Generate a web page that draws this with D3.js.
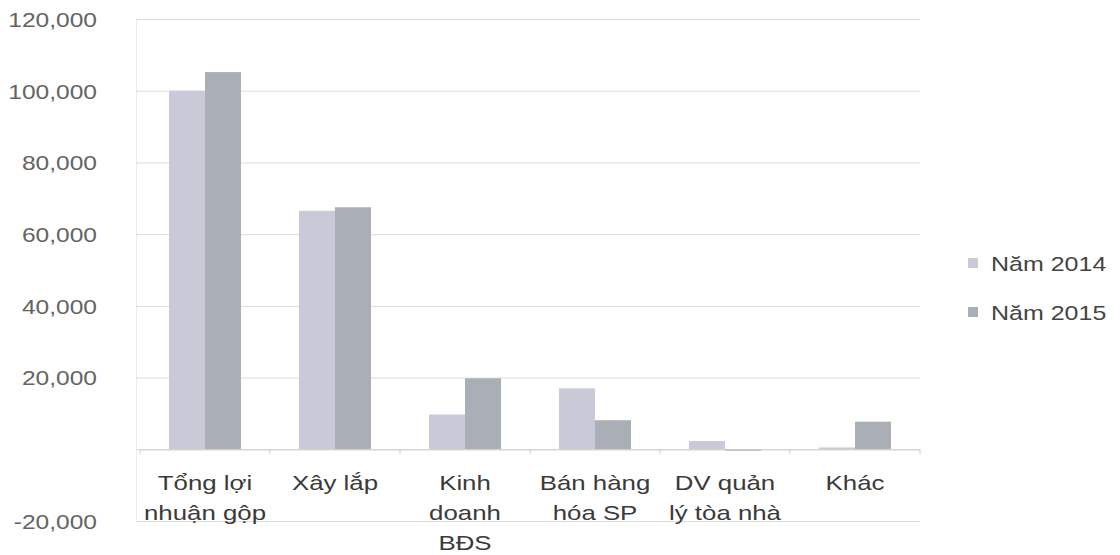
<!DOCTYPE html>
<html>
<head>
<meta charset="utf-8">
<script src="https://cdn.jsdelivr.net/npm/d3@7"></script>
<style>
  html, body { margin: 0; padding: 0; background: #ffffff; }
  svg { display: block; }
  text { font-family: "Liberation Sans", Arial, sans-serif; }
</style>
</head>
<body>
<svg id="chart" width="1120" height="555"></svg>
<script>
// ---- data ----
const categories = ["Tổng lợi\nnhuận gộp", "Xây lắp", "Kinh\ndoanh\nBĐS", "Bán hàng\nhóa SP", "DV quản\nlý tòa nhà", "Khác"];
const seriesNames = ["Năm 2014", "Năm 2015"];
const values2014 = [100000, 66500, 9700, 17000, 2300, 500];
const values2015 = [105200, 67500, 19800, 8100, -400, 7700];
const tickValues = [-20000, 0, 20000, 40000, 60000, 80000, 100000, 120000];
const tickLabels = ["-20,000", "", "20,000", "40,000", "60,000", "80,000", "100,000", "120,000"];
const colors = ["#c9c9d8", "#aaaeb6"];

// ---- layout ----
const svg = d3.select("#chart");
const plotLeft = 140, plotRight = 920, gridLeft = 136;
const yTop = 19, yBottom = 521;
const sTick = 1.17, sCat = 1.23, sLeg = 1.19;

const x0 = d3.scaleBand().domain(categories).range([plotLeft, plotRight])
  .paddingInner(0.446).paddingOuter(0.223);
const x1 = d3.scaleBand().domain(seriesNames).range([0, x0.bandwidth()]).padding(0);
const y = d3.scaleLinear().domain([-20000, 120000]).range([yBottom, yTop]);

// gridlines + y labels via axis
const yAxis = d3.axisLeft(y)
  .tickValues(tickValues)
  .tickSize(-(plotRight - gridLeft))
  .tickPadding(39)
  .tickFormat(d => tickLabels[tickValues.indexOf(d)]);

const gy = svg.append("g")
  .attr("transform", `translate(${gridLeft},0)`)
  .call(yAxis);
gy.select(".domain").attr("stroke", "#ececec");
gy.selectAll(".tick line").attr("stroke", "#dcdcdc").attr("stroke-width", 1);
gy.selectAll(".tick text")
  .attr("fill", "#646464")
  .style("font-size", "21px")
  .attr("x", -39 / sTick)
  .attr("transform", `scale(${sTick},1)`)
  .attr("dy", "0.35em");

// bars
const rows = categories.map((c, i) => ({ cat: c, vals: [values2014[i], values2015[i]] }));
const groups = svg.append("g").selectAll("g")
  .data(rows).join("g")
  .attr("transform", d => `translate(${x0(d.cat)},0)`);
groups.selectAll("rect")
  .data(d => d.vals.map((v, k) => ({ v, k })))
  .join("rect")
  .attr("x", d => x1(seriesNames[d.k]))
  .attr("width", x1.bandwidth())
  .attr("y", d => y(Math.max(0, d.v)))
  .attr("height", d => Math.max(1, Math.abs(y(d.v) - y(0))))
  .attr("fill", d => colors[d.k]);

// category axis at zero
const xAxis = d3.axisBottom(x0).tickSize(0).tickFormat("");
const gx = svg.append("g").attr("transform", `translate(0,${y(0)})`).call(xAxis);
gx.select(".domain").attr("stroke", "#cfcfcf");
const bounds = categories.map(c => x0(c) - x0.step() * x0.paddingInner() / 2)
  .concat([plotRight]);
gx.selectAll("line.bound").data(bounds).join("line")
  .attr("class", "bound")
  .attr("x1", d => d).attr("x2", d => d)
  .attr("y1", 0).attr("y2", 5)
  .attr("stroke", "#cfcfcf");

// category labels
const labels = svg.append("g").selectAll("text")
  .data(categories).join("text")
  .attr("transform", d => `translate(${x0(d) + x0.bandwidth() / 2},490) scale(${sCat},1)`)
  .attr("text-anchor", "middle")
  .attr("fill", "#3a3a3a")
  .style("font-size", "21px");
labels.selectAll("tspan")
  .data(d => d.split("\n"))
  .join("tspan")
  .attr("x", 0)
  .attr("dy", (d, i) => i === 0 ? 0 : 30)
  .text(d => d);

// legend
const legend = svg.append("g").selectAll("g")
  .data(seriesNames).join("g")
  .attr("transform", (d, i) => `translate(968,${263 + i * 49})`);
legend.append("rect")
  .attr("x", 0).attr("y", -5).attr("width", 10).attr("height", 10)
  .attr("fill", (d, i) => colors[i]);
legend.append("text")
  .attr("transform", `translate(23,0) scale(${sLeg},1)`)
  .attr("dy", "0.36em")
  .attr("fill", "#444444")
  .style("font-size", "21px")
  .text(d => d);
</script>
</body>
</html>
